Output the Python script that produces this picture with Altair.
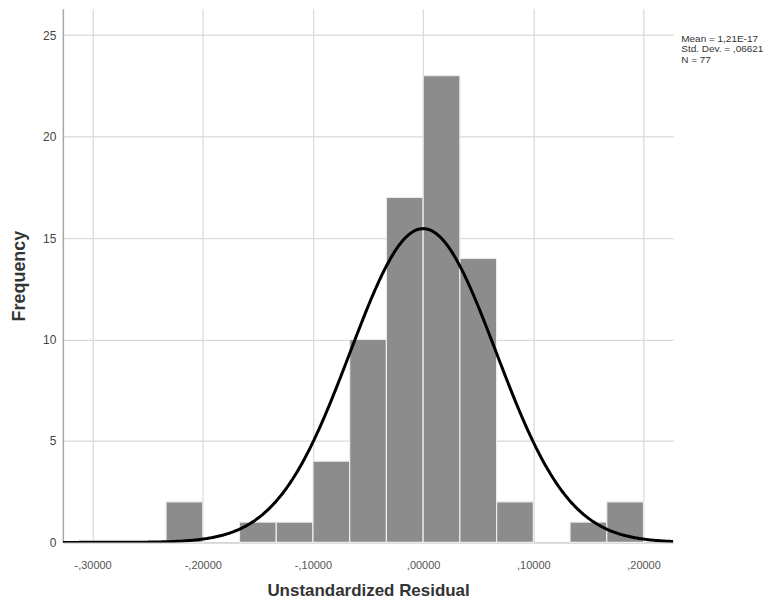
import altair as alt
import pandas as pd

# Histogram bins (edges are multiples of 1/30) and their frequencies
bin_start = [-0.23333, -0.16667, -0.13333, -0.10000, -0.06667, -0.03333,
             0.00000, 0.03333, 0.06667, 0.13333, 0.16667]
bin_end = [-0.20000, -0.13333, -0.10000, -0.06667, -0.03333, 0.00000,
           0.03333, 0.06667, 0.10000, 0.16667, 0.20000]
counts = [2, 1, 1, 4, 10, 17, 23, 14, 2, 1, 2]

# Summary statistics shown in the chart
mean_val = 1.21e-17
std_dev = 0.06621
n_obs = 77
bin_width = 1 / 30

stats_text = ["Mean = 1,21E-17", "Std. Dev. = ,06621", "N = 77"]

x_ticks = [-0.3, -0.2, -0.1, 0.0, 0.1, 0.2]
y_ticks = [0, 5, 10, 15, 20, 25]

x_domain = [-0.327, 0.227]
y_domain = [0, 26.3]

bars_df = pd.DataFrame({"start": bin_start, "end": bin_end, "count": counts})
stats_df = pd.DataFrame({"label": ["\n".join(stats_text)]})

x_scale = alt.Scale(domain=x_domain, nice=False, zero=False)
y_scale = alt.Scale(domain=y_domain, nice=False)

x_axis = alt.Axis(
    values=x_ticks,
    labelExpr="(datum.value < 0 ? '-' : '') + replace(format(abs(datum.value), '.5f'), '0.', ',')",
    title="Unstandardized Residual",
    grid=True, gridColor="#d9d9d9", gridWidth=1.2,
    ticks=False, domainColor="#d0d0d0", domainWidth=1.5,
    labelFontSize=11, labelColor="#555555", labelPadding=17,
    titleFontSize=17, titleFontWeight="bold", titleColor="#333333",
    titlePadding=12, labelFont="Liberation Sans", titleFont="Liberation Sans",
)
y_axis = alt.Axis(
    values=y_ticks,
    title="Frequency",
    grid=True, gridColor="#d9d9d9", gridWidth=1.2,
    ticks=False, domainColor="#a8a8a8", domainWidth=1.5,
    labelFontSize=12, labelColor="#444444", labelPadding=7,
    titleFontSize=18, titleFontWeight="bold", titleColor="#333333",
    titlePadding=14, labelFont="Liberation Sans", titleFont="Liberation Sans",
)

bars = alt.Chart(bars_df).mark_rect(
    color="#8c8c8c", stroke="#ececec", strokeWidth=1.2
).encode(
    x=alt.X("start:Q", scale=x_scale, axis=x_axis),
    x2="end:Q",
    y=alt.Y("count:Q", scale=y_scale, axis=y_axis),
    y2=alt.datum(0),
)

curve = alt.Chart(
    alt.sequence(start=x_domain[0], stop=x_domain[1] + 0.0005, step=0.001, as_="x")
).transform_calculate(
    y=f"{n_obs} * {bin_width} / ({std_dev} * sqrt(2 * PI)) * exp(-0.5 * pow((datum.x - {mean_val}) / {std_dev}, 2))"
).mark_line(color="black", strokeWidth=3, clip=True).encode(
    x=alt.X("x:Q", scale=x_scale),
    y=alt.Y("y:Q", scale=y_scale),
)

stats = alt.Chart(stats_df).mark_text(
    align="left", baseline="middle", fontSize=10, font="Liberation Sans",
    color="#333333", lineBreak="\n", lineHeight=10.5
).encode(
    x=alt.value(620),
    y=alt.value(30),
    text="label:N",
)

chart = alt.layer(bars, curve, stats).properties(
    width=612, height=535,
    autosize=alt.AutoSizeParams(type="none"),
    padding={"left": 55, "top": 0, "right": 100, "bottom": 56},
).configure_view(stroke=None)

chart.save("out.html", embed_options={"renderer": "svg", "actions": False})
